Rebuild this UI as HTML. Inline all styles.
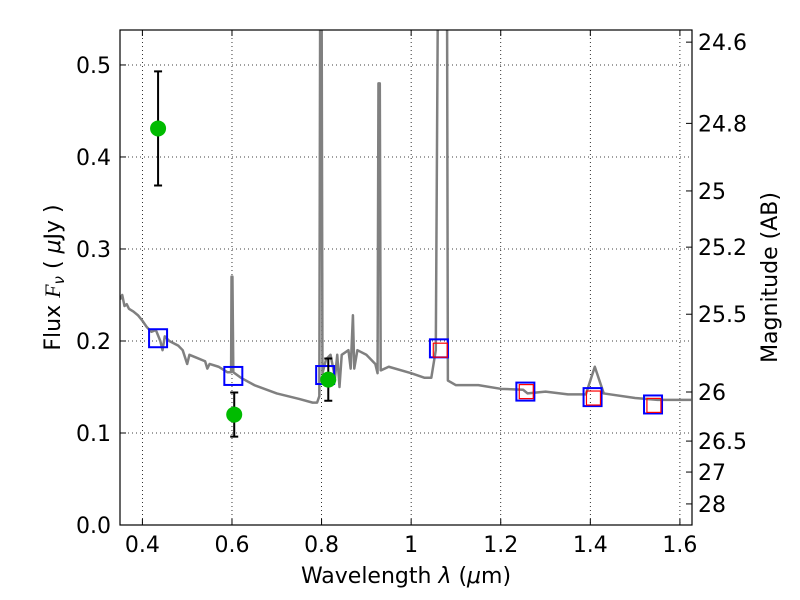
<!DOCTYPE html>
<html><head><meta charset="utf-8"><style>
body{margin:0;background:#fff;}
svg{display:block;font-family:"DejaVu Sans","Liberation Sans",sans-serif;}
</style></head><body>
<svg id="chart" width="800" height="600"></svg>
<script>
const specWave=[0.35,0.355,0.36,0.365,0.37,0.38,0.39,0.40,0.41,0.42,0.43,0.44,0.445,0.45,0.46,0.48,0.49,0.50,0.505,0.52,0.54,0.545,0.55,0.57,0.59,0.598,0.599,0.601,0.603,0.62,0.65,0.70,0.75,0.78,0.79,0.795,0.797,0.800,0.802,0.81,0.82,0.83,0.835,0.84,0.845,0.86,0.865,0.87,0.873,0.88,0.90,0.92,0.925,0.927,0.930,0.932,0.95,1.0,1.03,1.045,1.055,1.06,1.08,1.082,1.10,1.15,1.2,1.25,1.26,1.3,1.35,1.39,1.41,1.43,1.5,1.55,1.625];
const specFlux=[0.245,0.25,0.238,0.24,0.235,0.232,0.228,0.222,0.215,0.21,0.212,0.2,0.19,0.205,0.2,0.195,0.19,0.175,0.185,0.182,0.178,0.17,0.175,0.172,0.166,0.166,0.27,0.27,0.166,0.16,0.152,0.143,0.137,0.133,0.133,0.14,0.6,0.6,0.165,0.18,0.185,0.16,0.185,0.15,0.185,0.19,0.17,0.228,0.17,0.19,0.185,0.175,0.165,0.48,0.48,0.168,0.172,0.165,0.16,0.16,0.19,0.6,0.6,0.157,0.152,0.152,0.148,0.147,0.143,0.145,0.142,0.142,0.172,0.143,0.138,0.136,0.136];
const obsWave=[0.435,0.605,0.815];
const obsFlux=[0.431,0.12,0.158];
const obsErr=[0.062,0.024,0.023];
const modelWave=[0.435,0.603,0.808,1.062,1.255,1.405,1.54];
const modelFlux=[0.203,0.162,0.163,0.192,0.145,0.139,0.131];
const redWave=[1.065,1.257,1.407,1.542];
const redFlux=[0.19,0.145,0.138,0.13];
const xTicks=[0.4,0.6,0.8,1.0,1.2,1.4,1.6];
const xTickLabels=["0.4","0.6","0.8","1","1.2","1.4","1.6"];
const yTicks=[0,0.1,0.2,0.3,0.4,0.5];
const yTickLabels=["0.0","0.1","0.2","0.3","0.4","0.5"];
const magTicks=[24.6,24.8,25,25.2,25.5,26,26.5,27,28];
const magTickLabels=["24.6","24.8","25","25.2","25.5","26","26.5","27","28"];

const L=120,R=692,T=30,B=525,xmin=0.35,xmax=1.627,ymin=0,ymax=0.538;
const X=v=>L+(v-xmin)/(xmax-xmin)*(R-L);
const Y=v=>B-(v-ymin)/(ymax-ymin)*(B-T);
const NS="http://www.w3.org/2000/svg";
const svg=document.getElementById('chart');
function mk(tag,attrs,parent){const e=document.createElementNS(NS,tag);for(const k in attrs)e.setAttribute(k,attrs[k]);(parent||svg).appendChild(e);return e;}
const defs=mk('defs',{});const cp=mk('clipPath',{id:'clip'},defs);mk('rect',{x:L,y:T,width:R-L,height:B-T},cp);

xTicks.forEach((t,i)=>{const g=mk('line',{x1:X(t),x2:X(t),y1:T,y2:B,stroke:'#000','stroke-width':0.8,'stroke-dasharray':'1,3'});

const tk=mk('line',{x1:X(t),x2:X(t),y1:B,y2:B-6,stroke:'#000'});
const tk2=mk('line',{x1:X(t),x2:X(t),y1:T,y2:T+6,stroke:'#000'});
const tx=mk('text',{x:X(t),y:B+27,'text-anchor':'middle','font-size':22});tx.textContent=xTickLabels[i];
});
yTicks.forEach((t,i)=>{if(t>0){const g=mk('line',{x1:L,x2:R,y1:Y(t),y2:Y(t),stroke:'#000','stroke-width':0.8,'stroke-dasharray':'1,3'});
}
const tk=mk('line',{x1:L,x2:L+6,y1:Y(t),y2:Y(t),stroke:'#000'});
const tx=mk('text',{x:L-9,y:Y(t)+8,'text-anchor':'end','font-size':22});tx.textContent=yTickLabels[i];
});
magTicks.forEach((m,i)=>{const f=Math.pow(10,(23.9-m)/2.5);const y=Y(f);
const tk=mk('line',{x1:R,x2:R-6,y1:y,y2:y,stroke:'#000'});
const tx=mk('text',{x:R+6,y:y+8,'font-size':22});tx.textContent=magTickLabels[i];
});

const plot=mk('g',{'clip-path':'url(#clip)'});

const sp=mk('polyline',{points:specWave.map((w,i)=>X(w)+','+Y(specFlux[i])).join(' '),fill:'none',stroke:'#808080','stroke-width':2.5,'stroke-linejoin':'round'},plot);

modelWave.forEach((w,i)=>{const r=mk('rect',{x:X(w)-9,y:Y(modelFlux[i])-9,width:18,height:18,fill:'none',stroke:'#0000ff','stroke-width':2},plot);
});
redWave.forEach((w,i)=>{const r=mk('rect',{x:X(w)-7,y:Y(redFlux[i])-7,width:14,height:14,fill:'none',stroke:'#ff0000','stroke-width':1.2},plot);
});
obsWave.forEach((w,i)=>{const x=X(w),y1=Y(obsFlux[i]-obsErr[i]),y2=Y(obsFlux[i]+obsErr[i]);
const e=mk('path',{d:`M${x},${y1}V${y2}M${x-4},${y1}H${x+4}M${x-4},${y2}H${x+4}`,stroke:'#000','stroke-width':2,fill:'none'},plot);

const c=mk('circle',{cx:x,cy:Y(obsFlux[i]),r:8,fill:'#00bb00'},plot);
});

const fr=mk('rect',{x:L,y:T,width:R-L,height:B-T,fill:'none',stroke:'#000','stroke-width':1.2});

const xl=mk('text',{x:(L+R)/2,y:583,'text-anchor':'middle','font-size':22});xl.innerHTML='Wavelength  <tspan font-style="italic">λ</tspan> (<tspan font-style="italic">μ</tspan>m)';

const yl=mk('text',{x:0,y:0,'text-anchor':'middle','font-size':22,transform:`translate(60,${(T+B)/2}) rotate(-90)`});yl.innerHTML='Flux  <tspan font-style="italic" font-family="Liberation Serif">F</tspan><tspan font-style="italic" font-size="15" dy="4">ν</tspan><tspan dy="-4">  ( </tspan><tspan font-style="italic">μ</tspan>Jy )';

const yr=mk('text',{x:0,y:0,'text-anchor':'middle','font-size':22,transform:`translate(777,${(T+B)/2}) rotate(-90)`});yr.textContent='Magnitude (AB)';

</script>
</body></html>
